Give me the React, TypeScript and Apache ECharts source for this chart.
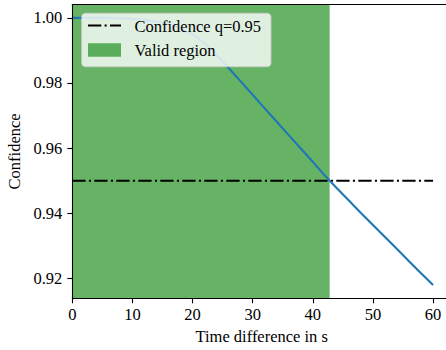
import React, { useEffect, useRef } from "react";
import * as echarts from "echarts";

const timeValues = [0, 2, 4, 6, 8, 10, 12, 14, 16, 18, 20, 22, 24, 26, 28, 30, 32, 34, 36, 38, 40, 42, 44, 46, 48, 50, 52, 54, 56, 58, 60];
const confidenceValues = [1.0, 1.0, 1.0, 0.99999, 0.9999, 0.9997, 0.9994, 0.9989, 0.9981, 0.9968, 0.9949, 0.9922, 0.9886, 0.9846, 0.9805, 0.9764, 0.9722, 0.9681, 0.964, 0.9599, 0.9558, 0.9516, 0.9477, 0.9439, 0.9401, 0.9364, 0.9327, 0.929, 0.9253, 0.9216, 0.918];
const thresholdQ = 0.95;
const thresholdRange = [0, 60];
const validRegion = [0, 42.8];
const xTicks = [0, 10, 20, 30, 40, 50, 60];
const yTicks = [0.92, 0.94, 0.96, 0.98, 1.0];
const xLimits = [0, 63];
const yLimits = [0.9139, 1.0041];

const FONT = '"Liberation Serif", "Times New Roman", serif';
const FS = 16.5;

export default function App() {
  const ref = useRef<HTMLDivElement>(null);
  useEffect(() => {
    document.body.style.margin = "0";
    const chart = echarts.init(ref.current!, null, { renderer: "svg" });
    const axisCommon = {
      axisLine: { show: true, lineStyle: { color: "#000", width: 1.1 } },
      axisTick: { show: true, length: 5, lineStyle: { color: "#000", width: 1.1 } },
      splitLine: { show: false },
      z: 10,
    };
    chart.setOption({
      animation: false,
      backgroundColor: "#fff",
      grid: { left: 72.3, top: 4.5, width: 378.8, height: 293.8, outerBoundsMode: "none", containLabel: false },
      xAxis: [
        {
          type: "value",
          min: xLimits[0],
          max: xLimits[1],
          ...axisCommon,
          axisTick: { ...axisCommon.axisTick, customValues: xTicks },
          axisLabel: {
            customValues: xTicks,
            color: "#000",
            fontFamily: FONT,
            fontSize: FS,
            margin: 8,
          },
          name: "Time difference in s",
          nameLocation: "middle",
          nameGap: 29,
          nameTextStyle: { color: "#000", fontFamily: FONT, fontSize: FS },
        },
        {
          type: "value",
          position: "top",
          min: xLimits[0],
          max: xLimits[1],
          axisLine: { show: true, onZero: false, lineStyle: { color: "#000", width: 1.1 } },
          axisTick: { show: false },
          axisLabel: { show: false },
          splitLine: { show: false },
          z: 10,
        },
      ],
      yAxis: {
        type: "value",
        min: yLimits[0],
        max: yLimits[1],
        ...axisCommon,
        axisTick: { ...axisCommon.axisTick, customValues: yTicks },
        axisLabel: {
          customValues: yTicks,
          formatter: (v: number) => v.toFixed(2),
          color: "#000",
          fontFamily: FONT,
          fontSize: FS,
          margin: 10,
        },
        name: "Confidence",
        nameLocation: "middle",
        nameGap: 47,
        nameTextStyle: { color: "#000", fontFamily: FONT, fontSize: FS },
      },
      series: [
        {
          type: "line",
          name: "Confidence",
          data: timeValues.map((t, i) => [t, confidenceValues[i]]),
          showSymbol: false,
          symbol: "none",
          lineStyle: { color: "#1f77b4", width: 2.1 },
          z: 4,
          markArea: {
            silent: true,
            itemStyle: { color: "rgb(102,179,102)", opacity: 1 },
            data: [[{ xAxis: validRegion[0] }, { xAxis: validRegion[1] }]],
          },
        },
        {
          type: "line",
          name: "Confidence q=0.95",
          data: thresholdRange.map((t) => [t, thresholdQ]),
          showSymbol: false,
          symbol: "none",
          lineStyle: { color: "#000", width: 2.1, type: [13.3, 3.3, 2.1, 3.3] },
          z: 3,
        },
      ],
      graphic: [
        {
          type: "group",
          z: 100,
          children: [
            {
              type: "rect",
              shape: { x: 81.7, y: 13.3, width: 189.3, height: 53.4, r: 4 },
              style: { fill: "rgba(255,255,255,0.8)", stroke: "rgba(204,204,204,0.8)", lineWidth: 1.1 },
              z: 100,
            },
            {
              type: "line",
              shape: { x1: 88, y1: 25.5, x2: 121, y2: 25.5 },
              style: { stroke: "#000", lineWidth: 2.1, lineDash: [13.3, 3.3, 2.1, 3.3] },
              z: 101,
            },
            {
              type: "rect",
              shape: { x: 88, y: 43.3, width: 33, height: 13.4 },
              style: { fill: "rgb(90,173,90)" },
              z: 101,
            },
            {
              type: "text",
              x: 134.5,
              y: 26,
              style: { text: "Confidence q=0.95", fontFamily: FONT, fontSize: FS, fill: "#000", verticalAlign: "middle", align: "left" },
              z: 101,
            },
            {
              type: "text",
              x: 134.5,
              y: 50.5,
              style: { text: "Valid region", fontFamily: FONT, fontSize: FS, fill: "#000", verticalAlign: "middle", align: "left" },
              z: 101,
            },
          ],
        },
      ],
    });
    return () => chart.dispose();
  }, []);
  return <div ref={ref} style={{ position: "fixed", left: 0, top: 0, width: 446, height: 350 }} />;
}
